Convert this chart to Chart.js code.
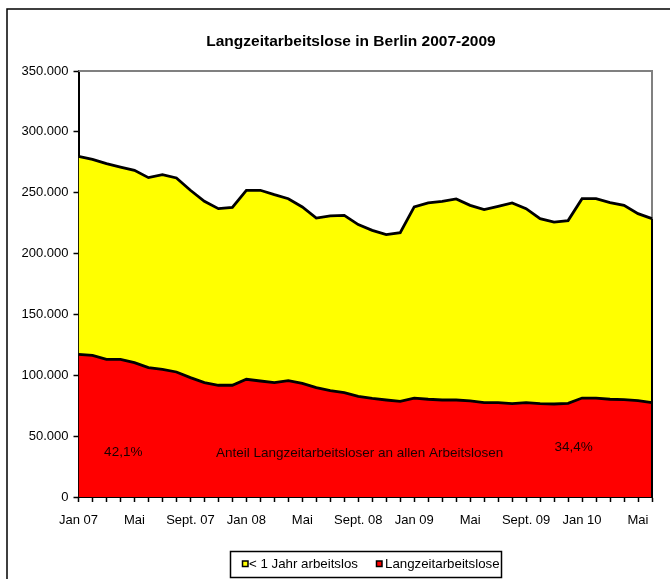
<!DOCTYPE html>
<html lang="de">
<head>
    <meta charset="UTF-8">
    <title>Langzeitarbeitslose in Berlin</title>
    <script src="https://cdn.jsdelivr.net/npm/chart.js@4.4.0/dist/chart.umd.min.js"></script>
    <style>
        html, body {
            margin: 0;
            padding: 0;
            background: white;
            overflow: hidden;
        }
        #chart {
            display: block;
        }
    </style>
</head>
<body>
    <canvas id="chart" width="670" height="579"></canvas>

    <script>
        // Monate Jan 07 - Jun 10, nur jede 4. Beschriftung sichtbar
        const monate = [
            'Jan 07', '', '', '', 'Mai', '', '', '', 'Sept. 07', '', '', '',
            'Jan 08', '', '', '', 'Mai', '', '', '', 'Sept. 08', '', '', '',
            'Jan 09', '', '', '', 'Mai', '', '', '', 'Sept. 09', '', '', '',
            'Jan 10', '', '', '', 'Mai', ''
        ];

        const langzeit = [
            117200, 116400, 113100, 113100, 110400, 106300, 104900, 102700, 98100, 94000,
            91800, 91800, 96700, 95300, 94000, 95600, 93400, 89900, 87400, 85800,
            82700, 81000, 79700, 78600, 81300, 80300, 79700, 79700, 78900, 77600,
            77600, 76700, 77600, 76700, 76400, 76900, 81300, 81300, 80300, 80000,
            79200, 77600
        ];

        const kurzzeit = [
            162700, 161000, 160800, 158000, 158000, 156100, 160000, 159400, 153900, 149000,
            145100, 146200, 155300, 156700, 154400, 149500, 144900, 139300, 143500, 145600,
            141100, 138100, 135900, 138600, 157000, 161300, 163200, 165200, 160700, 158500,
            161200, 164900, 159300, 152000, 149500, 150200, 163800, 163800, 161600, 159600,
            153600, 151100
        ];

        const serienNamen = ['Langzeitarbeitslose', '< 1 Jahr arbeitslos'];

        // Beschriftungen im Diagramm: [Text, Monatsindex, Wert]
        const notizen = [
            ['42,1%', 3.2, 36700],
            ['Anteil Langzeitarbeitsloser an allen Arbeitslosen', 20.1, 35900],
            ['34,4%', 35.4, 40800]
        ];

        const schrift = '"Liberation Sans", Arial, sans-serif';
        Chart.defaults.font.family = schrift;
        Chart.defaults.font.size = 13;
        Chart.defaults.color = '#000';

        function tausender(v) {
            return String(v).replace(/\B(?=(\d{3})+(?!\d))/g, '.');
        }

        const rahmen = {
            id: 'rahmen',
            beforeDatasetsDraw(chart) {
                const { ctx, chartArea: a } = chart;
                ctx.save();
                ctx.strokeStyle = '#808080';
                ctx.lineWidth = 2;
                ctx.beginPath();
                ctx.moveTo(a.left, a.top);
                ctx.lineTo(a.right, a.top);
                ctx.lineTo(a.right, a.bottom);
                ctx.stroke();
                ctx.restore();
            },
            afterDatasetsDraw(chart) {
                const { ctx, chartArea: a, scales } = chart;
                const oben = chart.getDatasetMeta(1).data;
                ctx.save();
                ctx.strokeStyle = '#000';
                ctx.lineWidth = 2;
                ctx.beginPath();
                ctx.moveTo(a.right, a.bottom);
                ctx.lineTo(a.right, oben[oben.length - 1].y);
                ctx.stroke();

                ctx.fillStyle = '#1a0000';
                ctx.font = '13.5px ' + schrift;
                ctx.textAlign = 'center';
                ctx.textBaseline = 'middle';
                notizen.forEach(([text, i, wert]) => {
                    ctx.fillText(text, scales.x.getPixelForValue(i), scales.y.getPixelForValue(wert));
                });
                ctx.restore();
            },
            afterDraw(chart) {
                const { ctx } = chart;
                ctx.save();
                // Außenrahmen
                ctx.strokeStyle = '#000';
                ctx.lineWidth = 1.5;
                ctx.strokeRect(7, 9, 720, 620);

                // Titel
                ctx.fillStyle = '#000';
                ctx.font = 'bold 15.5px ' + schrift;
                ctx.textAlign = 'center';
                ctx.textBaseline = 'middle';
                ctx.fillText('Langzeitarbeitslose in Berlin 2007-2009', 351, 42);

                // Legende
                ctx.lineWidth = 1.5;
                ctx.strokeRect(230.5, 551.5, 271, 26);
                ctx.font = '13.3px ' + schrift;
                ctx.textAlign = 'left';
                const ds = chart.data.datasets;
                const eintraege = [[ds[1], 242.5, 249], [ds[0], 376.5, 385]];
                eintraege.forEach(([d, bx, tx]) => {
                    ctx.fillStyle = d.backgroundColor;
                    ctx.fillRect(bx, 561, 5.5, 5.5);
                    ctx.strokeRect(bx, 561, 5.5, 5.5);
                    ctx.fillStyle = '#000';
                    ctx.fillText(d.label, tx, 564.5);
                });
                ctx.restore();
            }
        };

        new Chart(document.getElementById('chart'), {
            type: 'line',
            data: {
                labels: monate,
                datasets: [
                    {
                        label: serienNamen[0],
                        data: langzeit,
                        backgroundColor: '#ff0000',
                        borderColor: '#000',
                        borderWidth: 2.8,
                        fill: 'origin'
                    },
                    {
                        label: serienNamen[1],
                        data: kurzzeit,
                        backgroundColor: '#ffff00',
                        borderColor: '#000',
                        borderWidth: 2.8,
                        fill: '-1'
                    }
                ]
            },
            options: {
                responsive: false,
                animation: false,
                layout: {
                    padding: { left: 0, right: 18, top: 71, bottom: 52 }
                },
                elements: {
                    point: { radius: 0 },
                    line: { tension: 0 }
                },
                plugins: {
                    legend: { display: false },
                    title: { display: false },
                    tooltip: { enabled: false }
                },
                scales: {
                    x: {
                        z: 1,
                        offset: false,
                        afterFit: s => { s.height = 30; },
                        grid: {
                            offset: false,
                            drawOnChartArea: false,
                            drawTicks: true,
                            tickLength: 5,
                            tickWidth: 1.5,
                            tickColor: '#000'
                        },
                        border: { color: '#000', width: 2 },
                        ticks: {
                            autoSkip: false,
                            maxRotation: 0,
                            minRotation: 0,
                            padding: 11
                        }
                    },
                    y: {
                        z: 1,
                        stacked: true,
                        min: 0,
                        max: 350000,
                        afterFit: s => { s.width = 78.5; },
                        grid: {
                            drawOnChartArea: false,
                            drawTicks: true,
                            tickLength: 5,
                            tickWidth: 1.5,
                            tickColor: '#000'
                        },
                        border: { color: '#000', width: 2 },
                        ticks: {
                            stepSize: 50000,
                            padding: 5,
                            callback: v => tausender(v)
                        }
                    }
                }
            },
            plugins: [rahmen]
        });
    </script>
</body>
</html>
